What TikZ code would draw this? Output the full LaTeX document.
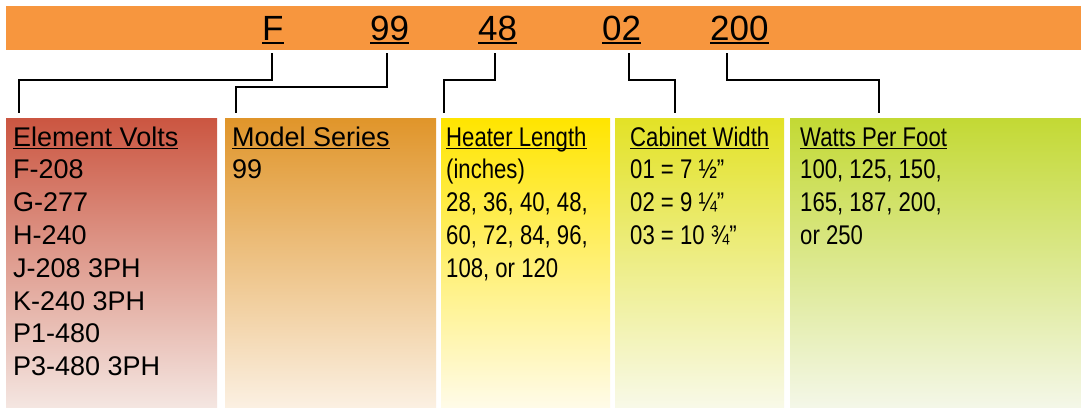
\documentclass[tikz,border=0pt]{standalone}
\usepackage{fontspec}
\setmainfont{Liberation Sans}
\newfontfamily\narrowfont[FakeStretch=0.82]{Liberation Sans}
\newcommand\ulbox[3]{\setbox0\hbox{#3}\rlap{\rule[-#1]{\wd0}{#2}}\box0}
\definecolor{barc}{HTML}{F7963E}
\definecolor{aT}{HTML}{CB5641}\definecolor{aB}{HTML}{F4E6E1}
\definecolor{bT}{HTML}{E0952A}\definecolor{bB}{HTML}{FBF0E2}
\definecolor{cT}{HTML}{FFE500}\definecolor{cB}{HTML}{FFFBE8}
\definecolor{dT}{HTML}{E3E226}\definecolor{dB}{HTML}{F8F9E8}
\definecolor{eT}{HTML}{C3D934}\definecolor{eB}{HTML}{F4F7E8}
\begin{document}
\begin{tikzpicture}[x=1pt,y=-1pt,
  code/.style={anchor=base west, inner sep=0pt, font=\fontsize{35}{40}\selectfont},
  txt/.style={anchor=base west, inner sep=0pt, font=\fontsize{27}{32}\selectfont},
  ntxt/.style={anchor=base west, inner sep=0pt, font=\fontsize{27}{32}\narrowfont},
  box/.style={anchor=north west, inner sep=0pt, minimum height=289pt},
  conn/.style={line width=1.8pt}]
\useasboundingbox (0,0) rectangle (1081,407);
\fill[white] (0,0) rectangle (1081,407);
% bar
\node[anchor=north west, inner sep=0pt, fill=barc, minimum width=1075pt, minimum height=44pt] (bar) at (6,6) {};
\node[code] (cF) at (262,40) {\ulbox{3.6pt}{1.6pt}{F}};
\node[code] (cN) at (370,40) {\ulbox{3.6pt}{1.6pt}{99}};
\node[code] (cL) at (478,40) {\ulbox{3.6pt}{1.6pt}{48}};
\node[code] (cW) at (602,40) {\ulbox{3.6pt}{1.6pt}{02}};
\node[code] (cP) at (710,40) {\ulbox{3.6pt}{1.6pt}{200}};
% boxes
\node[box, minimum width=211pt, top color=aT, bottom color=aB] (b1) at (6,118) {};
\node[box, minimum width=211pt, top color=bT, bottom color=bB] (b2) at (225,118) {};
\node[box, minimum width=169pt, top color=cT, bottom color=cB] (b3) at (441,118) {};
\node[box, minimum width=169pt, top color=dT, bottom color=dB] (b4) at (615,118) {};
\node[box, minimum width=291pt, top color=eT, bottom color=eB] (b5) at (790,118) {};
% connectors
\coordinate (sF) at (272,53); \coordinate (mF) at (19,80);  \coordinate (eF) at (19,113);
\coordinate (sN) at (387,53); \coordinate (mN) at (236,87); \coordinate (eN) at (236,113);
\coordinate (sL) at (495,53); \coordinate (mL) at (444,80); \coordinate (eL) at (444,113);
\coordinate (sW) at (629,53); \coordinate (mW) at (675,80); \coordinate (eW) at (675,113);
\coordinate (sP) at (727,53); \coordinate (mP) at (879,80); \coordinate (eP) at (879,113);
\foreach \k in {F,N,L,W,P} \draw[conn] (s\k) |- (m\k) -- (e\k);
% box 1
\node[txt] (h1) at (13,146) {\ulbox{3.2pt}{1.3pt}{Element Volts}};
\foreach \t [count=\i] in {F-208, G-277, H-240, J-208 3PH, K-240 3PH, P1-480, P3-480 3PH}
  \node[txt] (a\i) at (13,{146+32.8*\i}) {\t};
% box 2
\node[txt] (h2) at (232,146) {\ulbox{3.2pt}{1.3pt}{Model Series}};
\node[txt] (m1) at (232,178.8) {99};
% box 3
\node[ntxt] (h3) at (446,146) {\ulbox{3.2pt}{1.3pt}{Heater Length}};
\foreach \t [count=\i] in {(inches), {28, 36, 40, 48,}, {60, 72, 84, 96,}, {108, or 120}}
  \node[ntxt] (l\i) at (446,{146+32.8*\i}) {\t};
% box 4
\node[ntxt] (h4) at (630,146) {\ulbox{3.2pt}{1.3pt}{Cabinet Width}};
\node[ntxt] (w1) at (630,178.8) {01 = 7 ½”};
\node[ntxt] (w2) at (630,211.6) {02 = 9 ¼”};
\node[ntxt] (w3) at (630,244.4) {03 = 10 ¾”};
% box 5
\node[ntxt] (h5) at (800,146) {\ulbox{3.2pt}{1.3pt}{Watts Per Foot}};
\node[ntxt] (p1) at (800,178.8) {100, 125, 150,};
\node[ntxt] (p2) at (800,211.6) {165, 187, 200,};
\node[ntxt] (p3) at (800,244.4) {or 250};
\end{tikzpicture}
\end{document}
